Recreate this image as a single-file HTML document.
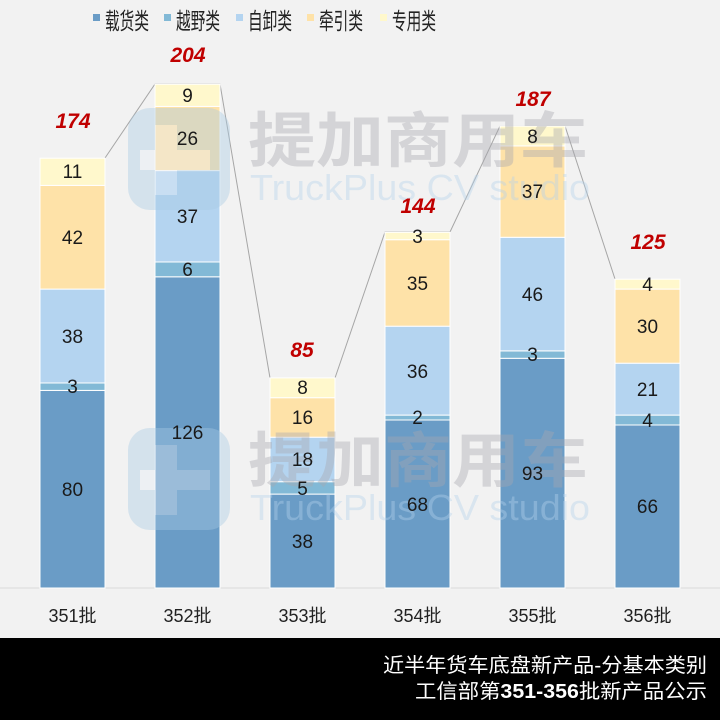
<!DOCTYPE html><html><head><meta charset="utf-8"><style>
body{margin:0;background:#f2f2f2;}
svg{display:block;font-family:"Liberation Sans","Noto Sans CJK SC",sans-serif;}
</style></head><body>
<svg width="720" height="720" xmlns="http://www.w3.org/2000/svg">
<rect width="720" height="720" fill="#f2f2f2"/>
<g font-size="23" fill="#222">
<rect x="93" y="14" width="7" height="7" fill="#6a9cc6"/><text x="105" y="29" textLength="44" lengthAdjust="spacingAndGlyphs">载货类</text>
<rect x="164" y="14" width="7" height="7" fill="#82b9d6"/><text x="176" y="29" textLength="44" lengthAdjust="spacingAndGlyphs">越野类</text>
<rect x="236" y="14" width="7" height="7" fill="#b4d4f0"/><text x="248" y="29" textLength="44" lengthAdjust="spacingAndGlyphs">自卸类</text>
<rect x="307" y="14" width="7" height="7" fill="#fee2a8"/><text x="319" y="29" textLength="44" lengthAdjust="spacingAndGlyphs">牵引类</text>
<rect x="380" y="14" width="7" height="7" fill="#fff8cc"/><text x="392" y="29" textLength="44" lengthAdjust="spacingAndGlyphs">专用类</text>
</g>
<line x1="0" y1="588" x2="720" y2="588" stroke="#d9d9d9"/>
<polyline points="105,158 155,84 220,84 270,378 335,378 385,232 450,232 500,126 565,126 615,279" fill="none" stroke="#a6a6a6" stroke-width="1"/>
<g stroke="#fff" stroke-width="1">
<rect x="40" y="390.4" width="65" height="197.6" fill="#6a9cc6"/>
<rect x="40" y="383" width="65" height="7.4" fill="#82b9d6"/>
<rect x="40" y="289.1" width="65" height="93.9" fill="#b4d4f0"/>
<rect x="40" y="185.4" width="65" height="103.7" fill="#fee2a8"/>
<rect x="40" y="158.2" width="65" height="27.2" fill="#fff8cc"/>
<rect x="155" y="276.8" width="65" height="311.2" fill="#6a9cc6"/>
<rect x="155" y="262" width="65" height="14.8" fill="#82b9d6"/>
<rect x="155" y="170.6" width="65" height="91.4" fill="#b4d4f0"/>
<rect x="155" y="106.4" width="65" height="64.2" fill="#fee2a8"/>
<rect x="155" y="84.2" width="65" height="22.2" fill="#fff8cc"/>
<rect x="270" y="494.1" width="65" height="93.9" fill="#6a9cc6"/>
<rect x="270" y="481.7" width="65" height="12.4" fill="#82b9d6"/>
<rect x="270" y="437.2" width="65" height="44.5" fill="#b4d4f0"/>
<rect x="270" y="397.7" width="65" height="39.5" fill="#fee2a8"/>
<rect x="270" y="377.9" width="65" height="19.8" fill="#fff8cc"/>
<rect x="385" y="420" width="65" height="168" fill="#6a9cc6"/>
<rect x="385" y="415.1" width="65" height="4.9" fill="#82b9d6"/>
<rect x="385" y="326.2" width="65" height="88.9" fill="#b4d4f0"/>
<rect x="385" y="239.7" width="65" height="86.5" fill="#fee2a8"/>
<rect x="385" y="232.3" width="65" height="7.4" fill="#fff8cc"/>
<rect x="500" y="358.3" width="65" height="229.7" fill="#6a9cc6"/>
<rect x="500" y="350.9" width="65" height="7.4" fill="#82b9d6"/>
<rect x="500" y="237.3" width="65" height="113.6" fill="#b4d4f0"/>
<rect x="500" y="145.9" width="65" height="91.4" fill="#fee2a8"/>
<rect x="500" y="126.1" width="65" height="19.8" fill="#fff8cc"/>
<rect x="615" y="425" width="65" height="163" fill="#6a9cc6"/>
<rect x="615" y="415.1" width="65" height="9.9" fill="#82b9d6"/>
<rect x="615" y="363.2" width="65" height="51.9" fill="#b4d4f0"/>
<rect x="615" y="289.1" width="65" height="74.1" fill="#fee2a8"/>
<rect x="615" y="279.2" width="65" height="9.9" fill="#fff8cc"/>
</g>
<g opacity="0.4">
<g>
<rect x="128" y="108" width="102" height="102" rx="22" fill="#a9cbe4"/>
<rect x="155" y="125" width="22" height="70" fill="#e6eef4"/><rect x="140" y="150" width="70" height="20" fill="#e6eef4"/>
<text x="248" y="162" font-size="60" font-weight="bold" fill="#a8a8b0" textLength="340" lengthAdjust="spacingAndGlyphs">提加商用车</text>
<text x="250" y="200" font-size="36" fill="#b4d2ea" textLength="340" lengthAdjust="spacingAndGlyphs">TruckPlus CV studio</text>
</g>
<g transform="translate(0,320)">
<rect x="128" y="108" width="102" height="102" rx="22" fill="#a9cbe4"/>
<rect x="155" y="125" width="22" height="70" fill="#e6eef4"/><rect x="140" y="150" width="70" height="20" fill="#e6eef4"/>
<text x="248" y="162" font-size="60" font-weight="bold" fill="#a8a8b0" textLength="340" lengthAdjust="spacingAndGlyphs">提加商用车</text>
<text x="250" y="200" font-size="36" fill="#b4d2ea" textLength="340" lengthAdjust="spacingAndGlyphs">TruckPlus CV studio</text>
</g>
</g>
<g font-size="19" fill="#1a1a1a" text-anchor="middle">
<text x="72.5" y="496">80</text><text x="72.5" y="393">3</text><text x="72.5" y="343">38</text><text x="72.5" y="244">42</text><text x="72.5" y="178">11</text>
<text x="187.5" y="439">126</text><text x="187.5" y="276">6</text><text x="187.5" y="223">37</text><text x="187.5" y="145">26</text><text x="187.5" y="102">9</text>
<text x="302.5" y="548">38</text><text x="302.5" y="495">5</text><text x="302.5" y="466">18</text><text x="302.5" y="424">16</text><text x="302.5" y="394">8</text>
<text x="417.5" y="511">68</text><text x="417.5" y="424">2</text><text x="417.5" y="378">36</text><text x="417.5" y="290">35</text><text x="417.5" y="243">3</text>
<text x="532.5" y="480">93</text><text x="532.5" y="361">3</text><text x="532.5" y="301">46</text><text x="532.5" y="198">37</text><text x="532.5" y="143">8</text>
<text x="647.5" y="513">66</text><text x="647.5" y="427">4</text><text x="647.5" y="396">21</text><text x="647.5" y="333">30</text><text x="647.5" y="291">4</text>
</g>
<g font-size="21" font-weight="bold" font-style="italic" fill="#c00000" text-anchor="middle">
<text x="73" y="128">174</text><text x="188" y="62">204</text><text x="302" y="357">85</text>
<text x="418" y="213">144</text><text x="533" y="106">187</text><text x="648" y="249">125</text>
</g>
<g font-size="18" fill="#222" text-anchor="middle">
<text x="72.5" y="622">351批</text><text x="187.5" y="622">352批</text><text x="302.5" y="622">353批</text>
<text x="417.5" y="622">354批</text><text x="532.5" y="622">355批</text><text x="647.5" y="622">356批</text>
</g>
<rect x="0" y="638" width="720" height="82" fill="#000"/>
<g font-size="20" fill="#fff">
<text x="383" y="672" textLength="324" lengthAdjust="spacingAndGlyphs">近半年货车底盘新产品-分基本类别</text>
<text x="415" y="698" textLength="292" lengthAdjust="spacingAndGlyphs">工信部第<tspan font-weight="bold">351-356</tspan>批新产品公示</text>
</g>
</svg>
</body></html>
